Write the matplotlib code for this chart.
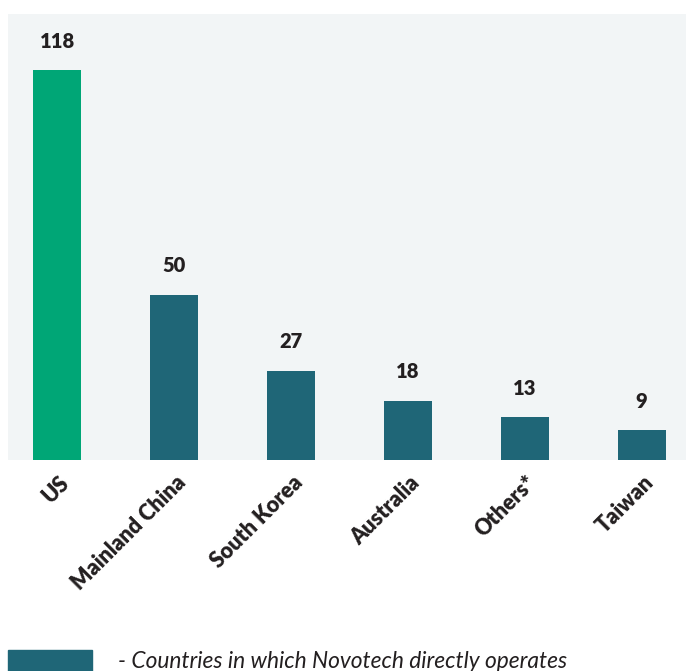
import matplotlib as mpl
mpl.use('Agg')
import matplotlib.pyplot as plt
import matplotlib.transforms as mtransforms
from matplotlib.patches import Rectangle

# data
countries = ["US", "Mainland China", "South Korea", "Australia", "Others*", "Taiwan"]
counts = [118, 50, 27, 18, 13, 9]
bar_colors = ["#00a676", "#1f6677", "#1f6677", "#1f6677", "#1f6677", "#1f6677"]
legend_text = "- Countries in which Novotech directly operates"

text_color = "#231f20"
bg_color = "#f2f5f6"

plt.rcParams['font.family'] = ['Lato', 'DejaVu Sans']

fig = plt.figure(figsize=(6.86, 6.71), dpi=100)
ax = fig.add_axes([8 / 686, 211 / 671, 678 / 686, 446 / 671])
ax.set_facecolor(bg_color)

x = range(len(countries))
bars = ax.bar(x, counts, width=0.41, color=bar_colors)

for b, v in zip(bars, counts):
    ax.annotate(str(v), (b.get_x() + b.get_width() / 2, v),
                xytext=(0, 14), textcoords='offset points',
                ha='center', va='bottom', fontsize=14.5, fontweight='heavy',
                color=text_color)

ax.set_xlim(-0.42, 5.38)
ax.set_ylim(0, 135)
ax.set_yticks([])
ax.set_xticks(list(x))
ax.set_xticklabels(countries, rotation=45, ha='right', va='center',
                   rotation_mode='anchor', fontsize=15.5, fontweight='heavy',
                   color=text_color)
ax.tick_params(axis='x', length=0, pad=14)
shift = mtransforms.ScaledTranslation(6 / 72, 0, fig.dpi_scale_trans)
for lbl in ax.get_xticklabels():
    lbl.set_transform(lbl.get_transform() + shift)

for s in ax.spines.values():
    s.set_visible(False)

# legend swatch and text at the bottom
fig.patches.append(Rectangle((8 / 686, 0), 84 / 686, 21 / 671,
                             transform=fig.transFigure, color="#1f6677"))
fig.text(118 / 686, 3 / 671, legend_text, fontsize=16.4, style='italic',
         color=text_color, ha='left', va='baseline')

fig.savefig("out.png", dpi=100, facecolor='white')
